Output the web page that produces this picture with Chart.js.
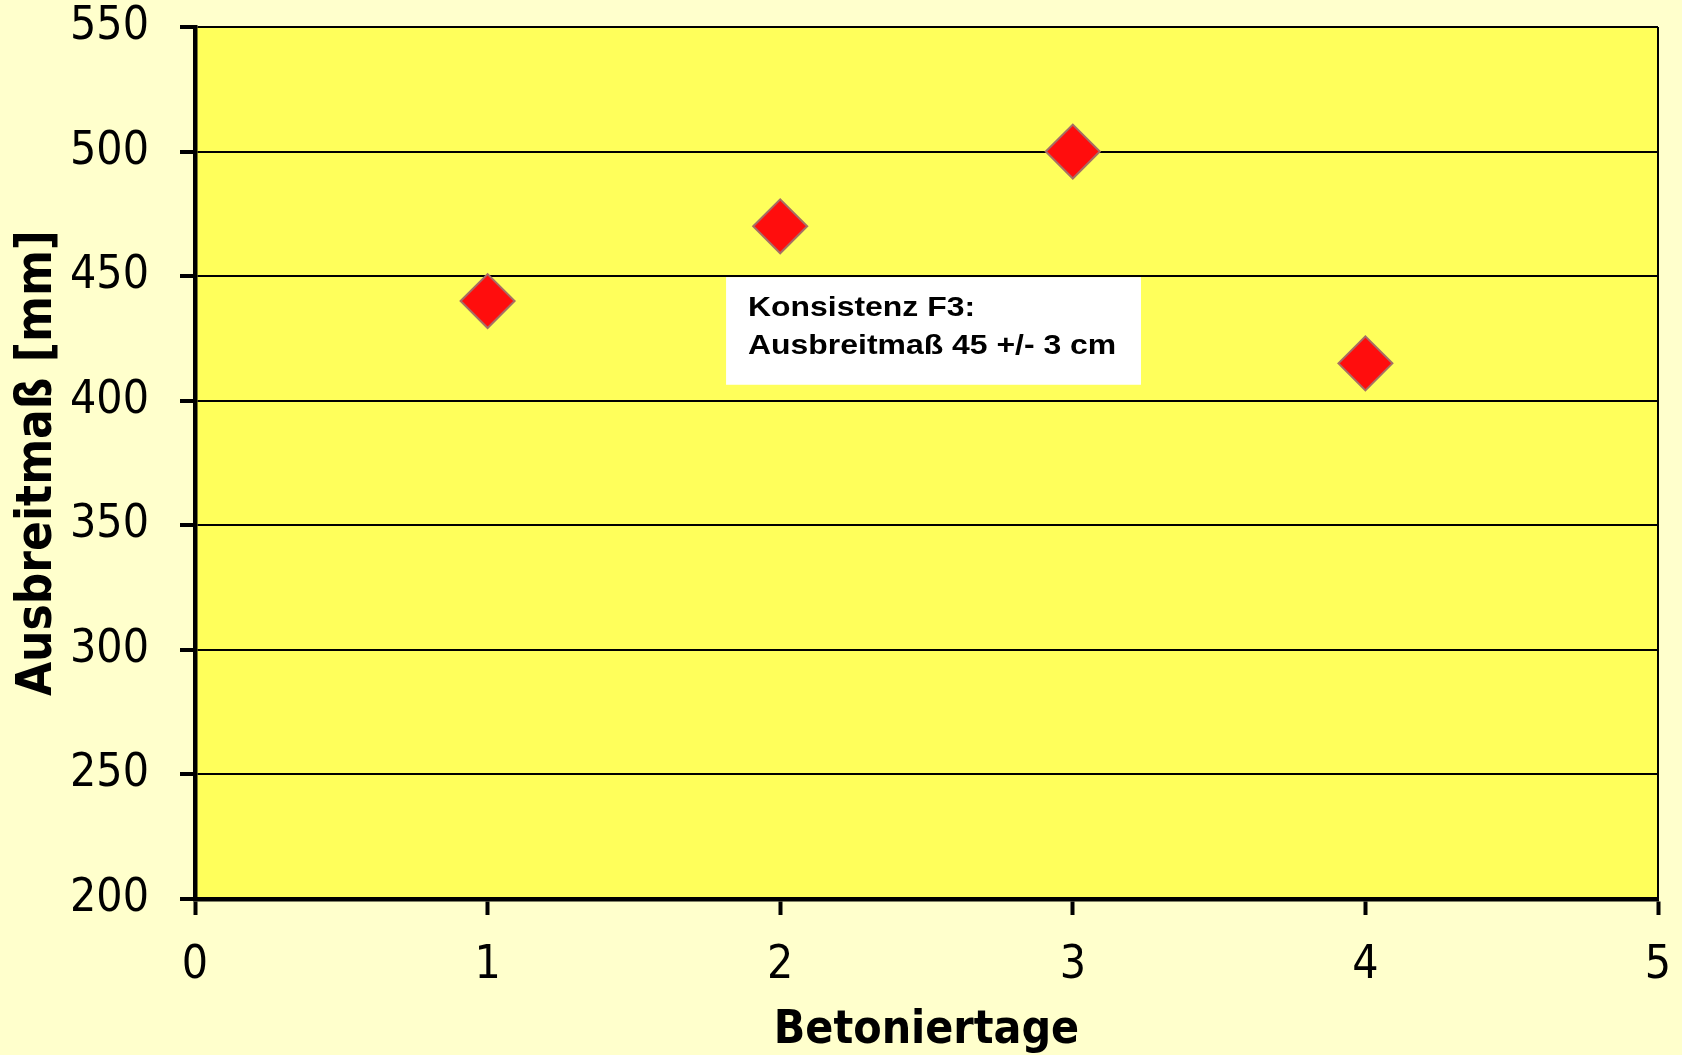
<!DOCTYPE html>
<html>
<head>
<meta charset="utf-8">
<script src="https://cdn.jsdelivr.net/npm/chart.js@4/dist/chart.umd.min.js"></script>
<style>
  html, body { margin: 0; padding: 0; background: #FFFFCC; }
  #wrap { width: 1682px; height: 1055px; }
</style>
</head>
<body>
<div id="wrap"><canvas id="c" width="1682" height="1055"></canvas></div>
<script>
// ---- data ----
const betoniertage = [1, 2, 3, 4];
const ausbreitmass = [440, 470, 500, 415];
const xTitle = 'Betoniertage';
const yTitle = 'Ausbreitmaß [mm]';
const noteLines = ['Konsistenz F3:', 'Ausbreitmaß 45 +/- 3 cm'];
const noteXRange = [1.815, 3.233];   // in Betoniertage units
const noteYRange = [406.4, 449.6];  // in mm units

const points = betoniertage.map((x, i) => ({ x: x, y: ausbreitmass[i] }));

const bgPlugin = {
  id: 'bg',
  beforeDraw(chart) {
    const { ctx, chartArea: a } = chart;
    ctx.save();
    ctx.fillStyle = '#FFFFCC';
    ctx.fillRect(0, 0, chart.width, chart.height);
    ctx.fillStyle = '#FFFF5B';
    ctx.fillRect(a.left, a.top, a.right - a.left, a.bottom - a.top);
    ctx.restore();
  },
  afterDraw(chart) {
    const { ctx, chartArea: a } = chart;
    ctx.save();
    ctx.strokeStyle = '#000';
    ctx.lineWidth = 2;
    ctx.beginPath();
    ctx.moveTo(a.right, a.top);
    ctx.lineTo(a.right, a.bottom);
    ctx.stroke();
    ctx.restore();
  }
};

const notePlugin = {
  id: 'note',
  afterDatasetsDraw(chart) {
    const { ctx, scales: { x, y } } = chart;
    const l = x.getPixelForValue(noteXRange[0]);
    const r = x.getPixelForValue(noteXRange[1]);
    const t = y.getPixelForValue(noteYRange[1]);
    const b = y.getPixelForValue(noteYRange[0]);
    ctx.save();
    ctx.fillStyle = '#FFFFFF';
    ctx.fillRect(l, t, r - l, b - t);
    ctx.fillStyle = '#000';
    ctx.font = 'bold 28.5px "Liberation Sans", Arial, sans-serif';
    ctx.textBaseline = 'alphabetic';
    noteLines.forEach((line, i) => {
      ctx.save();
      ctx.translate(l + 22, t + 39 + i * 38.3);
      ctx.scale(1.12, 1);
      ctx.fillText(line, 0, 0);
      ctx.restore();
    });
    ctx.restore();
  }
};

const tickFont = { family: '"DejaVu Sans Condensed", "DejaVu Sans", sans-serif', size: 46, lineHeight: 1.17 };
const xTitleFont = { family: '"DejaVu Sans Condensed", "DejaVu Sans", sans-serif', size: 46, weight: 'bold', lineHeight: 1.0 };
const yTitleFont = { family: '"DejaVu Sans Condensed", "DejaVu Sans", sans-serif', size: 49, weight: 'bold', lineHeight: 1.0 };

new Chart(document.getElementById('c'), {
  type: 'scatter',
  data: {
    datasets: [{
      data: points,
      pointStyle: 'rectRot',
      pointRadius: 27,
      pointHoverRadius: 27,
      backgroundColor: '#FF0D0D',
      borderColor: '#A66E64',
      pointBorderWidth: 2,
      borderWidth: 2,
      showLine: false
    }]
  },
  options: {
    responsive: false,
    animation: false,
    events: [],
    layout: { autoPadding: false, padding: { top: 27, right: 24, left: 0, bottom: 0 } },
    plugins: { legend: { display: false }, tooltip: { enabled: false } },
    scales: {
      x: {
        type: 'linear',
        min: 0, max: 5,
        afterFit(s) { s.height = 156; s.paddingLeft = 0; s.paddingRight = 0; },
        ticks: { stepSize: 1, color: '#000', font: tickFont, padding: 24, maxRotation: 0 },
        grid: { drawOnChartArea: false, drawTicks: true, tickLength: 16, tickWidth: 4, tickColor: '#000' },
        border: { display: true, color: '#000', width: 4.5 },
        title: { display: true, text: xTitle, color: '#000', font: xTitleFont, padding: { top: 0, bottom: 1 } }
      },
      y: {
        type: 'linear',
        min: 200, max: 550,
        afterFit(s) { s.width = 195; s.paddingTop = 0; s.paddingBottom = 0; },
        ticks: { stepSize: 50, color: '#000', font: tickFont, padding: 31 },
        grid: { drawOnChartArea: true, color: '#000', lineWidth: 2, drawTicks: true, tickLength: 15, tickWidth: 4, tickColor: '#000' },
        border: { display: true, color: '#000', width: 4.5 },
        title: { display: true, text: yTitle, color: '#000', font: yTitleFont, padding: { top: 14, bottom: 0 } }
      }
    }
  },
  plugins: [bgPlugin, notePlugin]
});
</script>
</body>
</html>
